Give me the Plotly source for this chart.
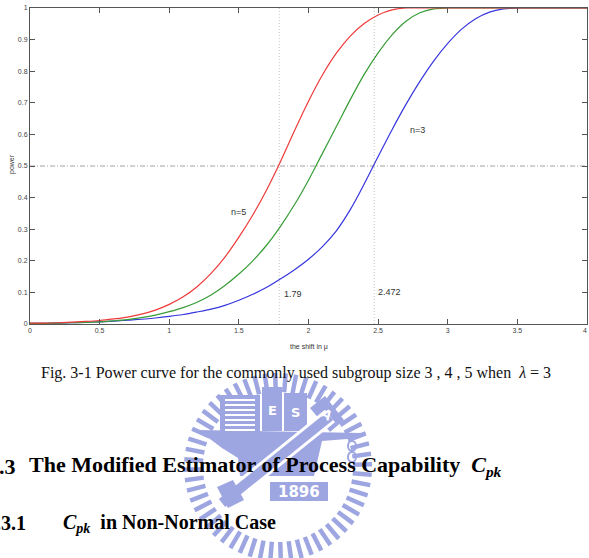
import math
import plotly.graph_objects as go

# ---------------- data ----------------
shift = [round(0.1 * i, 1) for i in range(41)]  # the shift in mu, 0 .. 4

power_n5 = [0.003, 0.003, 0.004, 0.006, 0.008, 0.011, 0.016, 0.022, 0.031, 0.044,
            0.062, 0.086, 0.118, 0.160, 0.212, 0.275, 0.345, 0.425, 0.515, 0.612,
            0.705, 0.788, 0.857, 0.911, 0.951, 0.978, 0.994, 1.0, 1.0, 1.0,
            1.0, 1.0, 1.0, 1.0, 1.0, 1.0, 1.0, 1.0, 1.0, 1.0, 1.0]
power_n4 = [0.002, 0.002, 0.003, 0.004, 0.005, 0.007, 0.010, 0.014, 0.020, 0.028,
            0.039, 0.052, 0.069, 0.092, 0.122, 0.158, 0.200, 0.250, 0.310, 0.378,
            0.455, 0.540, 0.625, 0.710, 0.790, 0.858, 0.915, 0.958, 0.985, 0.997,
            1.0, 1.0, 1.0, 1.0, 1.0, 1.0, 1.0, 1.0, 1.0, 1.0, 1.0]
power_n3 = [0.002, 0.002, 0.003, 0.004, 0.005, 0.007, 0.009, 0.012, 0.015, 0.019,
            0.024, 0.030, 0.038, 0.047, 0.059, 0.075, 0.094, 0.116, 0.143, 0.172,
            0.205, 0.245, 0.295, 0.362, 0.443, 0.530, 0.615, 0.695, 0.768, 0.833,
            0.888, 0.933, 0.966, 0.987, 0.997, 1.0, 1.0, 1.0, 1.0, 1.0, 1.0]

ref_shifts = [1.79, 2.472]
ref_labels = ["1.79", "2.472"]
ref_power = 0.5

x_ticks = [0, 0.5, 1, 1.5, 2, 2.5, 3, 3.5, 4]
x_ticktext = ["0", "0.5", "1", "1.5", "2", "2.5", "3", "3.5", ""]
y_ticks = [round(0.1 * i, 1) for i in range(11)]
y_ticktext = ["0", "0.1", "0.2", "0.3", "0.4", "0.5", "0.6", "0.7", "0.8", "0.9", "1"]

# ---------------- figure ----------------
W, H = 589, 558
L, R, T, B = 30, 2, 8, 234
PW, PH = W - L - R, H - T - B


def X(px):
    return (px - L) / PW


def Y(py):
    return (H - B - py) / PH


fig = go.Figure()

series = [("n=3", power_n3, "#3636de"),
          ("n=4", power_n4, "#369c36"),
          ("n=5", power_n5, "#ee3a3a")]
for name, vals, col in series:
    fig.add_trace(go.Scatter(x=shift, y=vals, mode="lines", name=name,
                             line=dict(color=col, width=1.2, shape="spline", smoothing=1.0),
                             showlegend=False, hoverinfo="skip"))

shapes = []
# reference lines
for s in ref_shifts:
    shapes.append(dict(type="line", xref="x", yref="y", x0=s, x1=s, y0=0, y1=1,
                       line=dict(color="#c4c4c4", width=1, dash="1px,2px"), layer="below"))
shapes.append(dict(type="line", xref="x", yref="y", x0=0, x1=4, y0=ref_power, y1=ref_power,
                   line=dict(color="#8c8c8c", width=0.8, dash="5px,2px,1px,2px"), layer="below"))

ann = []


def note(x, y, text, font, xref="paper", yref="paper", xa="center", ya="middle", **kw):
    ann.append(dict(x=x, y=y, xref=xref, yref=yref, text=text, showarrow=False, font=font,
                    xanchor=xa, yanchor=ya, **kw))


lab_font = dict(family="Liberation Sans, Arial", size=9, color="#333333")
note(1.494, 0.354, "n=5", lab_font, "x", "y")
note(2.78, 0.614, "n=3", lab_font, "x", "y")
note(ref_shifts[0] + 0.099, 0.095, ref_labels[0], lab_font, "x", "y")
note(ref_shifts[1] + 0.113, 0.102, ref_labels[1], lab_font, "x", "y")

tick_font = dict(family="Liberation Sans, Arial", size=7, color="#444")
note(X(589), Y(330), "4", tick_font, xa="right")

# axis titles
small = dict(family="Liberation Sans, Arial", size=7, color="#333")
note(X(309), Y(347), "the shift in \u03bc", small)
note(X(12), Y(164), "power", small, textangle=-90)

# ---------------- watermark (decorative emblem) ----------------
lav = "rgb(158,166,226)"
cx, cy, r1, r2 = 278, 467, 75, 94
N = 56
for k in range(N):
    a = 2 * math.pi * k / N + 0.03
    x0p, y0p = cx + r1 * math.cos(a), cy - r1 * math.sin(a)
    x1p, y1p = cx + r2 * math.cos(a), cy - r2 * math.sin(a)
    shapes.append(dict(type="line", xref="paper", yref="paper", x0=X(x0p), y0=Y(y0p),
                       x1=X(x1p), y1=Y(y1p), line=dict(color=lav, width=4.5), layer="below"))


def path(pts):
    return "M " + " L ".join(f"{X(a):.5f},{Y(b):.5f}" for a, b in pts) + " Z"


# anvil
shapes.append(dict(type="path", xref="paper", yref="paper", layer="below",
                   path=path([(198, 430), (362, 433), (360, 438), (322, 441), (314, 476),
                              (240, 476), (238, 458), (222, 448)]),
                   fillcolor=lav, line=dict(width=0)))
# books
shapes.append(dict(type="rect", xref="paper", yref="paper", layer="below",
                   x0=X(220), x1=X(260), y0=Y(435), y1=Y(395), fillcolor=lav, line=dict(width=0)))
for yy in range(400, 431, 5):
    shapes.append(dict(type="line", xref="paper", yref="paper", layer="below",
                       x0=X(225), x1=X(255), y0=Y(yy), y1=Y(yy), line=dict(color="white", width=2)))
shapes.append(dict(type="rect", xref="paper", yref="paper", layer="below",
                   x0=X(262), x1=X(282), y0=Y(431), y1=Y(387), fillcolor=lav, line=dict(width=0)))
shapes.append(dict(type="rect", xref="paper", yref="paper", layer="below",
                   x0=X(284), x1=X(307), y0=Y(431), y1=Y(393), fillcolor=lav, line=dict(width=0)))
shapes.append(dict(type="path", xref="paper", yref="paper", layer="below",
                   path=path([(310, 408), (325, 396), (344, 420), (330, 432)]),
                   fillcolor=lav, line=dict(width=0)))
# hammer
shapes.append(dict(type="line", xref="paper", yref="paper", layer="below",
                   x0=X(222), y0=Y(503), x1=X(330), y1=Y(416), line=dict(color="white", width=16)))
shapes.append(dict(type="line", xref="paper", yref="paper", layer="below",
                   x0=X(222), y0=Y(503), x1=X(330), y1=Y(416), line=dict(color=lav, width=10)))
shapes.append(dict(type="path", xref="paper", yref="paper", layer="below",
                   path=path([(217, 487), (233, 480), (244, 500), (228, 508)]),
                   fillcolor=lav, line=dict(width=0)))
# chain
for yy in (446, 457):
    shapes.append(dict(type="circle", xref="paper", yref="paper", layer="below",
                       x0=X(348), x1=X(356), y0=Y(yy + 5), y1=Y(yy - 5),
                       line=dict(color=lav, width=2)))
# 1896 plate
shapes.append(dict(type="rect", xref="paper", yref="paper", layer="below",
                   x0=X(270), x1=X(328), y0=Y(501), y1=Y(482), fillcolor=lav, line=dict(width=0)))

wm_font = dict(family="DejaVu Sans", size=13, color="white")
note(X(272), Y(410), "<b>E</b>", wm_font)
note(X(295), Y(412), "<b>S</b>", wm_font)
note(X(327), Y(414), "<b>A</b>", wm_font, textangle=35)
note(X(299), Y(492), "<b>1896</b>", dict(family="DejaVu Sans", size=15, color="white"))

# ---------------- document text ----------------
serif = "Liberation Serif, Times New Roman, serif"
note(X(296), Y(373),
     "Fig. 3-1 Power curve for the commonly used subgroup size 3 , 4 , 5 when  <i>\u03bb</i> = 3",
     dict(family=serif, size=16, color="#111"))
note(X(18), Y(466), "<b>3.3</b>", dict(family=serif, size=22, color="black"), xa="right")
note(X(27), Y(466),
     "<b>The Modified Estimator of Process Capability  <i>C</i><sub><i>pk</i></sub></b>",
     dict(family=serif, size=22, color="black"), xa="left")
note(X(28), Y(523), "<b>3.3.1</b>", dict(family=serif, size=20, color="black"), xa="right")
note(X(61), Y(523), "<b><i>C</i><sub><i>pk</i></sub>  in Non-Normal Case</b>",
     dict(family=serif, size=20, color="black"), xa="left")

axis_common = dict(showline=True, linecolor="#555", linewidth=1, mirror="ticks", ticks="inside",
                   ticklen=5, tickcolor="#555", tickwidth=1, showgrid=False, zeroline=False,
                   tickfont=tick_font)

fig.update_layout(
    width=W, height=H, margin=dict(l=L, r=R, t=T, b=B, pad=0),
    paper_bgcolor="white", plot_bgcolor="white", showlegend=False,
    xaxis=dict(range=[0, 4], tickvals=x_ticks, ticktext=x_ticktext, **axis_common),
    yaxis=dict(range=[0, 1], tickvals=y_ticks, ticktext=y_ticktext, **axis_common),
    shapes=shapes,
    annotations=ann,
)

fig.write_html("out.html")
